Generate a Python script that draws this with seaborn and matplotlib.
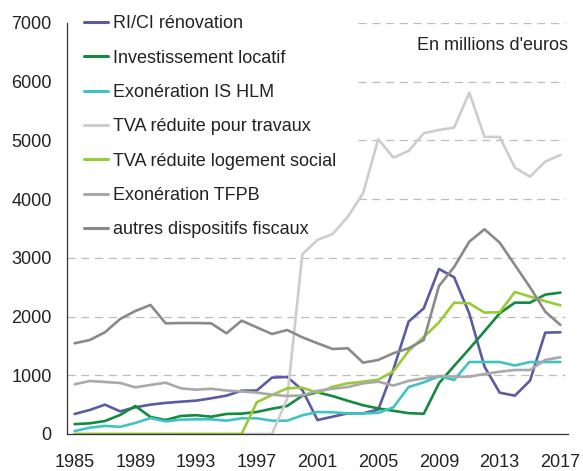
import numpy as np
import pandas as pd
import matplotlib
matplotlib.use("Agg")
import matplotlib.pyplot as plt
import seaborn as sns

# Dépenses fiscales en faveur du logement, en millions d'euros (1985-2017)
annees = list(range(1985, 2018))

ri_ci_renovation = [341, 409, 500, 385, 455, 500, 530, 550, 568, 608, 653, 738, 740,
                    960, 972, 750, 238, 295, 352, 352, 415, 1100, 1914, 2141, 2811,
                    2669, 2050, 1147, 704, 653, 910, 1726, 1732]
investissement_locatif = [168, 182, 221, 324, 477, 290, 238, 307, 320, 295, 341, 347, 375,
                          430, 477, 650, 710, 645, 565, 490, 435, 395, 355, 345, 863,
                          1160, 1450, 1750, 2056, 2237, 2237, 2374, 2408]
exoneration_is_hlm = [51, 107, 138, 122, 188, 272, 215, 244, 250, 250, 227, 267, 267,
                      227, 227, 318, 375, 370, 350, 350, 360, 455, 800, 880, 982,
                      920, 1226, 1226, 1226, 1167, 1226, 1226, 1226]
tva_travaux = [0, 0, 0, 0, 0, 0, 0, 0, 0, 0, 0, 0, 0,
               0, 600, 3061, 3305, 3407, 3702, 4100, 5020, 4707, 4821, 5123, 5179,
               5218, 5814, 5060, 5060, 4537, 4383, 4639, 4753]
tva_logement_social = [0, 0, 0, 0, 0, 0, 0, 0, 0, 0, 0, 0, 540,
                       664, 778, 790, 700, 806, 863, 891, 925, 1067, 1416, 1652, 1900,
                       2237, 2226, 2067, 2075, 2420, 2340, 2262, 2192]
exoneration_tfpb = [846, 903, 886, 869, 795, 835, 874, 778, 755, 770, 741, 724, 705,
                    670, 647, 658, 735, 770, 800, 863, 891, 825, 905, 948, 988,
                    976, 976, 1022, 1061, 1090, 1090, 1261, 1307]
autres_dispositifs = [1545, 1601, 1732, 1959, 2095, 2198, 1885, 1890, 1890, 1885, 1715,
                      1930, 1817, 1703, 1771, 1647, 1545, 1448, 1460, 1215, 1261, 1375,
                      1460, 1601, 2520, 2845, 3276, 3487, 3259, 2879, 2499, 2084, 1857]

series = {
    "RI/CI rénovation": ri_ci_renovation,
    "Investissement locatif": investissement_locatif,
    "Exonération IS HLM": exoneration_is_hlm,
    "TVA réduite pour travaux": tva_travaux,
    "TVA réduite logement social": tva_logement_social,
    "Exonération TFPB": exoneration_tfpb,
    "autres dispositifs fiscaux": autres_dispositifs,
}
couleurs = ["#5a5ca3", "#138a40", "#41c3c6", "#cdcdcd", "#98cb35", "#a9a9a9", "#8a8a8a"]

df = pd.concat(
    [pd.DataFrame({"annee": annees, "montant": v, "dispositif": k}) for k, v in series.items()],
    ignore_index=True,
)

sns.set_style("white")
plt.rcParams["font.family"] = ["Liberation Sans", "DejaVu Sans"]
TAILLE = 13

fig = plt.figure(figsize=(5.83, 4.71), dpi=100)
ax = fig.add_axes([67 / 583, 1 - 434 / 471, (568 - 67) / 583, (434 - 23) / 471])

sns.lineplot(data=df, x="annee", y="montant", hue="dispositif",
             hue_order=list(series.keys()), palette=couleurs,
             linewidth=1.9, ax=ax, legend=True)

ax.set_xlim(1984.5, 2017.5)
ax.set_ylim(0, 7000)
ax.set_xlabel("")
ax.set_ylabel("")

# Grille horizontale en pointillés ; au-dessus de 3000 elle s'arrête à droite de la légende
ax.set_yticks(range(0, 7001, 1000))
for v in range(1000, 7001, 1000):
    debut = 1984.5 if v <= 3000 else 2003.65
    ax.hlines(v, debut, 2017.3, color="#bdbdbd", linewidth=0.9,
              linestyles=(0, (6.5, 4.5)), zorder=0)

# Étiquettes d'années au centre des catégories, graduations entre les catégories
ax.set_xticks(range(1985, 2018, 4))
ax.set_xticks(np.arange(1984.5, 2017, 4), minor=True)
ax.tick_params(axis="x", which="major", length=0, pad=14.5, labelsize=TAILLE, labelcolor="#222222")
ax.tick_params(axis="x", which="minor", length=4, width=0.9, color="#333333", direction="out")
ax.tick_params(axis="y", length=4, width=0.9, color="#333333", direction="out",
               pad=7, labelsize=TAILLE, labelcolor="#222222")

for s in ["top", "right"]:
    ax.spines[s].set_visible(False)
for s in ["left", "bottom"]:
    ax.spines[s].set_color("#333333")
    ax.spines[s].set_linewidth(0.9)

handles, labels = ax.get_legend_handles_labels()
leg = ax.legend(handles, labels, loc="upper left",
                bbox_to_anchor=(77 / 583, 1 - 8 / 471), bbox_transform=fig.transFigure,
                frameon=False, fontsize=TAILLE, handlelength=1.33,
                handletextpad=0.28, labelspacing=0.96, borderpad=0.4,
                borderaxespad=0)
for line in leg.get_lines():
    line.set_linewidth(2.2)
for t in leg.get_texts():
    t.set_color("#222222")
leg.set_zorder(5)

fig.text(568 / 583, 1 - 46 / 471, "En millions d'euros", ha="right", va="center",
         fontsize=TAILLE, color="#222222")

fig.savefig("out.png", dpi=100)
